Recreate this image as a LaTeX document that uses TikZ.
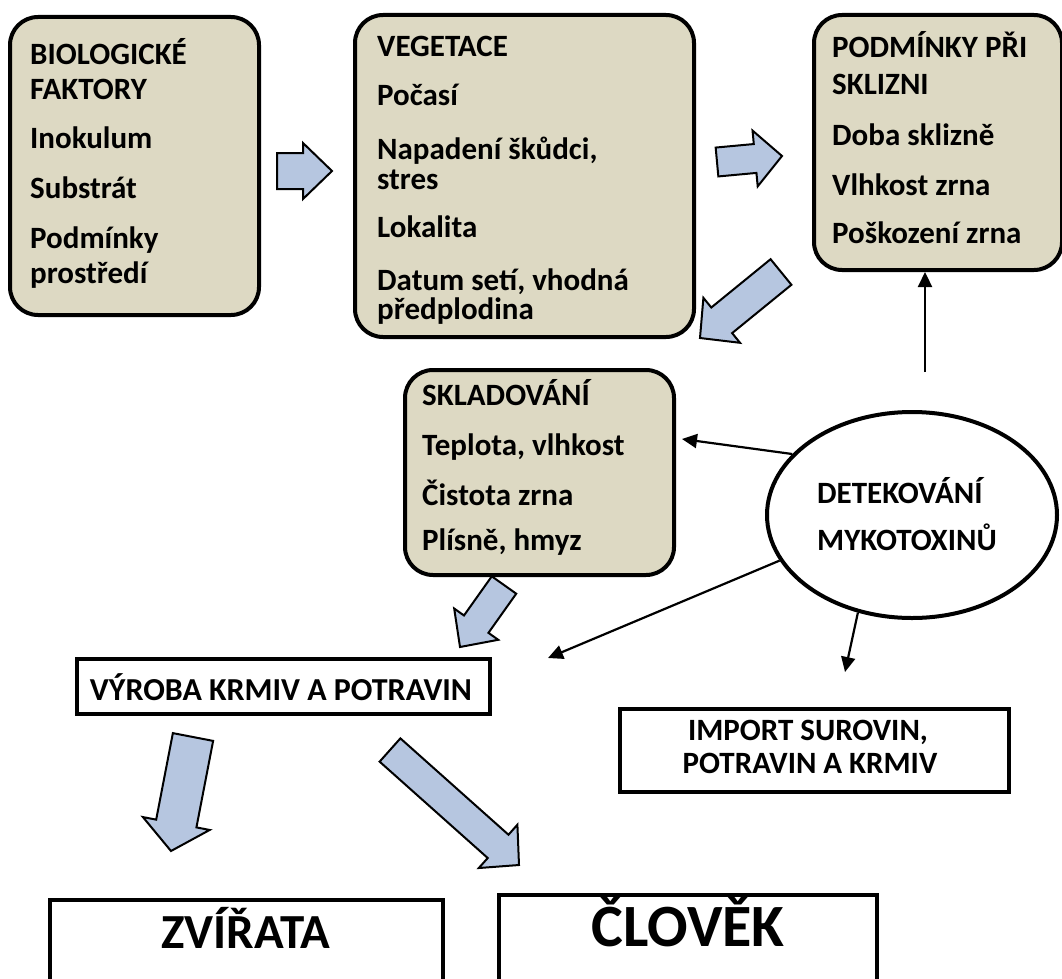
\documentclass[tikz,border=0pt]{standalone}
\usepackage{fontspec}
\setmainfont{Carlito}
\usetikzlibrary{calc,arrows.meta,shapes.geometric}
\definecolor{boxtan}{RGB}{221,217,195}
\definecolor{arrblue}{RGB}{182,198,224}
\tikzset{
  rbox/.style={draw=black, line width=4pt, fill=boxtan, rounded corners=28pt, anchor=north west, inner sep=0pt},
  sbox/.style={draw=black, line width=3.5pt, fill=white, anchor=north west, inner sep=0pt},
  txt/.style={inner sep=0pt, anchor=base west, font=\fontsize{31}{35}\selectfont\bfseries},
  ctxt/.style={txt, anchor=base},
  bigtxt/.style={inner sep=0pt, anchor=base, font=\fontsize{49}{55}\selectfont\bfseries},
  conn/.style={line width=2.2pt, -{Triangle[length=15pt,width=14pt]}},
  blk/.style={draw=black, line width=2pt, fill=arrblue, line join=miter},
}
\newcommand\blockarr[6]{%
  \coordinate (#1b) at ($(#3)!#6pt!(#2)$);
  \draw[blk] ($(#2)!#4pt!90:(#3)$) -- ($(#1b)!#4pt!90:(#3)$) -- ($(#1b)!#5pt!90:(#3)$) -- (#3)
    -- ($(#1b)!#5pt!-90:(#3)$) -- ($(#1b)!#4pt!-90:(#3)$) -- ($(#2)!#4pt!-90:(#3)$) -- cycle;
}
\begin{document}
\begin{tikzpicture}[x=1pt,y=-1pt]
\useasboundingbox (0,0) rectangle (1062,979);
% boxes
\node[rbox, minimum width=249pt, minimum height=298pt] (bio) at (8,15) {};
\node[rbox, minimum width=339pt, minimum height=322pt] (veg) at (353,13) {};
\node[rbox, minimum width=248pt, minimum height=255pt] (harv) at (812,13) {};
\node[rbox, minimum width=269pt, minimum height=205pt] (stor) at (403,368) {};
\node[sbox, minimum width=413pt, minimum height=55pt] (vyr) at (75,657) {};
\node[sbox, minimum width=389pt, minimum height=83pt] (imp) at (618,707) {};
\node[sbox, minimum width=393pt, minimum height=100pt] (zvi) at (48,898) {};
\node[sbox, minimum width=378pt, minimum height=100pt] (clo) at (497,893) {};
\node[ellipse, draw=black, line width=4pt, fill=white, minimum width=290pt, minimum height=206pt, inner sep=0pt] (det) at (912,515) {};
% block arrows
\coordinate (a1s) at (277,171); \coordinate (a1e) at (332,171);
\coordinate (a2s) at (717,162); \coordinate (a2e) at (782,156);
\coordinate (a3s) at (781,272); \coordinate (a3e) at (700,338);
\coordinate (a4s) at (504,585); \coordinate (a4e) at (460,647);
\coordinate (a5s) at (193,737); \coordinate (a5e) at (171,851);
\coordinate (a6s) at (390,750); \coordinate (a6e) at (519,865);
\blockarr{a1}{a1s}{a1e}{18}{28}{29}
\blockarr{a2}{a2s}{a2e}{14.5}{28}{27}
\blockarr{a3}{a3s}{a3e}{16.5}{29}{28}
\blockarr{a4}{a4s}{a4e}{15}{27}{28}
\blockarr{a5}{a5s}{a5e}{20.5}{34}{28}
\blockarr{a6}{a6s}{a6e}{15.6}{29}{28}
% thin connectors
\coordinate (t1e) at (682,439);
\coordinate (t2e) at (548,658);
\coordinate (t3e) at (845,672);
\coordinate (t4s) at (925,372);
\draw[conn] (det.153) -- (t1e);
\draw[conn] (det.199) -- (t2e);
\draw[conn] (det.241) -- (t3e);
\draw[conn] (t4s) -- (t4s |- harv.south);
% texts
\node[txt] (b1) at (30,65) {BIOLOGICKÉ};
\node[txt] (b2) at (30,100) {FAKTORY};
\node[txt] (b3) at (30,148) {Inokulum};
\node[txt] (b4) at (30,198) {Substrát};
\node[txt] (b5) at (30,248) {Podmínky};
\node[txt] (b6) at (30,283) {prostředí};
\node[txt] (v1) at (377,57) {VEGETACE};
\node[txt] (v2) at (377,106) {Počasí};
\node[txt] (v3) at (377,159) {Napadení škůdci,};
\node[txt] (v4) at (377,189) {stres};
\node[txt] (v5) at (377,237) {Lokalita};
\node[txt] (v6) at (377,290) {Datum setí, vhodná};
\node[txt] (v7) at (377,319) {předplodina};
\node[txt] (h1) at (832,58) {PODMÍNKY PŘI};
\node[txt] (h2) at (832,95) {SKLIZNI};
\node[txt] (h3) at (832,146) {Doba sklizně};
\node[txt] (h4) at (832,195) {Vlhkost zrna};
\node[txt] (h5) at (832,243) {Poškození zrna};
\node[txt] (s1) at (422,405) {SKLADOVÁNÍ};
\node[txt] (s2) at (422,455) {Teplota, vlhkost};
\node[txt] (s3) at (422,505) {Čistota zrna};
\node[txt] (s4) at (422,550) {Plísně, hmyz};
\node[txt] (d1) at (817,503) {DETEKOVÁNÍ};
\node[txt] (d2) at (817,550) {MYKOTOXINŮ};
\node[ctxt, font=\fontsize{32}{36}\selectfont\bfseries] (vyrt) at (281,700) {VÝROBA KRMIV A POTRAVIN};
\node[ctxt] (imp1) at (808,740) {IMPORT SUROVIN,};
\node[ctxt] (imp2) at (810,773) {POTRAVIN A KRMIV};
\node[bigtxt] (zvit) at (246,948) {ZVÍŘATA};
\node[bigtxt, font=\fontsize{60}{66}\selectfont\bfseries] (clot) at (688,946) {ČLOVĚK};
\end{tikzpicture}
\end{document}
